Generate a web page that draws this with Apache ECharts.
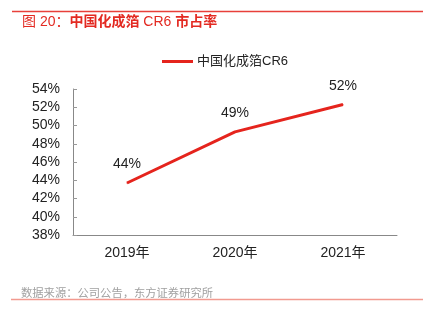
<!DOCTYPE html>
<html><head><meta charset="utf-8">
<script src="https://cdn.jsdelivr.net/npm/echarts@6/dist/echarts.min.js"></script>
<style>html,body{margin:0;padding:0;background:#fff}#c{width:432px;height:324px}</style>
</head><body><div id="c"></div>
<script>
const categories = ['2019年', '2020年', '2021年'];
const cr6 = [43.7, 49.3, 52.3];
const seriesName = '中国化成箔CR6';
const yMin = 38, yMax = 54, yStep = 2;

const font = '"Liberation Sans", Arial, "Noto Sans CJK SC", sans-serif';
const chart = echarts.init(document.getElementById('c'), null, {renderer: 'canvas'});
chart.setOption({
  animation: false,
  backgroundColor: '#fff',
  textStyle: {fontFamily: font},
  title: [{
    text: '{a|图 20：}{b|中国化成箔 }{a|CR6 }{b|市占率}',
    left: 22, top: 15, padding: 0,
    textStyle: {
      rich: {
        a: {fontSize: 14, color: '#e32a22', fontFamily: font, fontWeight: 'normal'},
        b: {fontSize: 14, color: '#e32a22', fontFamily: font, fontWeight: 'bold'}
      }
    }
  }, {
    text: '数据来源：公司公告，东方证券研究所',
    left: 21, top: 288, padding: 0,
    textStyle: {fontSize: 11.3, color: '#a0a0a0', fontWeight: 'normal', fontFamily: font}
  }],
  graphic: [
    {type: 'line', z: 100, shape: {x1: 12, y1: 11.5, x2: 423, y2: 11.5}, style: {stroke: '#e8403a', lineWidth: 1.3}},
    {type: 'line', z: 100, shape: {x1: 11, y1: 299.5, x2: 423, y2: 299.5}, style: {stroke: '#f29a90', lineWidth: 1.5}}
  ],
  legend: {
    data: [seriesName],
    top: 50, left: 157,
    itemWidth: 31, itemHeight: 14, itemGap: 4,
    icon: 'path://M0,6L31,6L31,9L0,9Z',
    textStyle: {fontSize: 13, color: '#222', fontFamily: font, padding: [0,0,0,-1]}
  },
  grid: {left: 73, right: 35, top: 89, bottom: 89, containLabel: false},
  xAxis: {
    type: 'category', data: categories, boundaryGap: true,
    axisLine: {lineStyle: {color: '#888', width: 1}},
    axisTick: {show: false},
    axisLabel: {fontSize: 14, color: '#222', margin: 11, fontFamily: font}
  },
  yAxis: {
    type: 'value', min: yMin, max: yMax, interval: yStep,
    axisLine: {show: true, lineStyle: {color: '#888', width: 1}},
    axisTick: {show: true, inside: true, length: 4, lineStyle: {color: '#999'}},
    splitLine: {show: false},
    axisLabel: {fontSize: 14, color: '#222', margin: 13, fontFamily: font,
      formatter: v => v + '%'}
  },
  series: [{
    name: seriesName, type: 'line', data: cr6,
    symbol: 'circle', symbolSize: 1, showSymbol: true, smooth: false,
    lineStyle: {color: '#e5241d', width: 3},
    itemStyle: {color: '#e5241d'},
    label: {show: true, position: 'top', distance: 11, fontSize: 14, color: '#222',
      fontFamily: font, formatter: p => Math.round(p.value) + '%'}
  }]
});
</script></body></html>
